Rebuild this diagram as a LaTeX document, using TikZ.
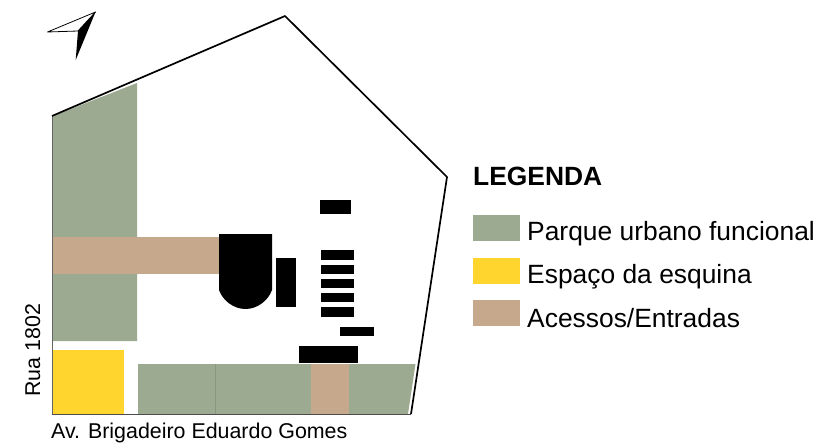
\documentclass[tikz,border=0pt]{standalone}
\usepackage{fontspec}
\setmainfont{Liberation Sans}
\definecolor{parkgreen}{HTML}{9CAA91}
\definecolor{cornerYellow}{HTML}{FFD52E}
\definecolor{accessTan}{HTML}{C6A88C}
\tikzset{
  parkfill/.style={fill=parkgreen,draw=none},
  tanfill/.style={fill=accessTan,draw=none},
  yellowfill/.style={fill=cornerYellow,draw=none},
  blackfill/.style={fill=black,draw=none},
  legendtext/.style={anchor=base west,inner sep=0pt,font=\fontsize{26.4}{30}\selectfont},
  streettext/.style={inner sep=0pt,font=\fontsize{21.4}{25}\selectfont}
}
\begin{document}
\begin{tikzpicture}[x=1pt,y=-1pt]
\useasboundingbox (0,0) rectangle (816,444);
% green areas
\fill[parkfill] (53,116) -- (137,83) -- (137,341) -- (53,341) -- cycle;
\fill[parkfill] (138,364) rectangle (215,414);
\fill[parkfill] (215,364) rectangle (311,414);
\fill[parkfill] (349,364) -- (415.5,364) -- (408,414) -- (349,414) -- cycle;
\draw[black!12!parkgreen,line width=.6pt] (215,364) -- (215,414);
% tan areas
\fill[tanfill] (53,237) rectangle (219,274);
\fill[tanfill] (311,364) rectangle (349,414);
% yellow
\fill[yellowfill] (53,350) rectangle (123.5,414);
% buildings
\fill[blackfill] (219,234) -- (272,234) -- (272,290) .. controls (268,301) and (257,309) .. (245.5,309) .. controls (234,309) and (223,301) .. (219,290) -- cycle;
\fill[blackfill] (276,258) rectangle (296,306.5);
\fill[blackfill] (319.5,200) rectangle (351,214);
\fill[blackfill] (321,250) rectangle (354,260);
\fill[blackfill] (321,264.5) rectangle (354,274);
\fill[blackfill] (321,278.5) rectangle (354,288);
\fill[blackfill] (321,292.5) rectangle (354,302);
\fill[blackfill] (321,307) rectangle (354,316.5);
\fill[blackfill] (340,327) rectangle (373.5,336);
\fill[blackfill] (299,346) rectangle (357.5,362.5);
% site outline
\draw[black!60,line width=1pt] (52,116) -- (52,414);
\draw[black!70,line width=1pt] (52,414) -- (411,414);
\draw[black,line width=1.7pt,line join=round] (52,116) -- (285,16) -- (447,177) -- (411,414);
% north arrow
\draw[black,line width=.8pt,fill=white,line join=round] (47.5,32) -- (95.5,12) -- (78,31) -- cycle;
\fill[black] (95.5,12) -- (78,31) -- (75.7,60) -- cycle;
% street labels
\node[streettext,anchor=base west] (avenue) at (51,438) {Av. Brigadeiro Eduardo Gomes};
\node[streettext,rotate=90,anchor=base west] (rua) at (40,397) {Rua 1802};
% legend
\node[anchor=base west,inner sep=0pt,font=\bfseries\fontsize{26.4}{30}\selectfont] (legtitle) at (473,185) {LEGENDA};
\fill[parkfill] (473,215) rectangle (519.5,241);
\fill[yellowfill] (473,258) rectangle (519.5,284);
\fill[tanfill] (473,300) rectangle (519.5,326);
\node[legendtext] (leg1) at (527,240) {Parque urbano funcional};
\node[legendtext] (leg2) at (527,283.5) {Espaço da esquina};
\node[legendtext] (leg3) at (527,327.3) {Acessos/Entradas};
\end{tikzpicture}
\end{document}
